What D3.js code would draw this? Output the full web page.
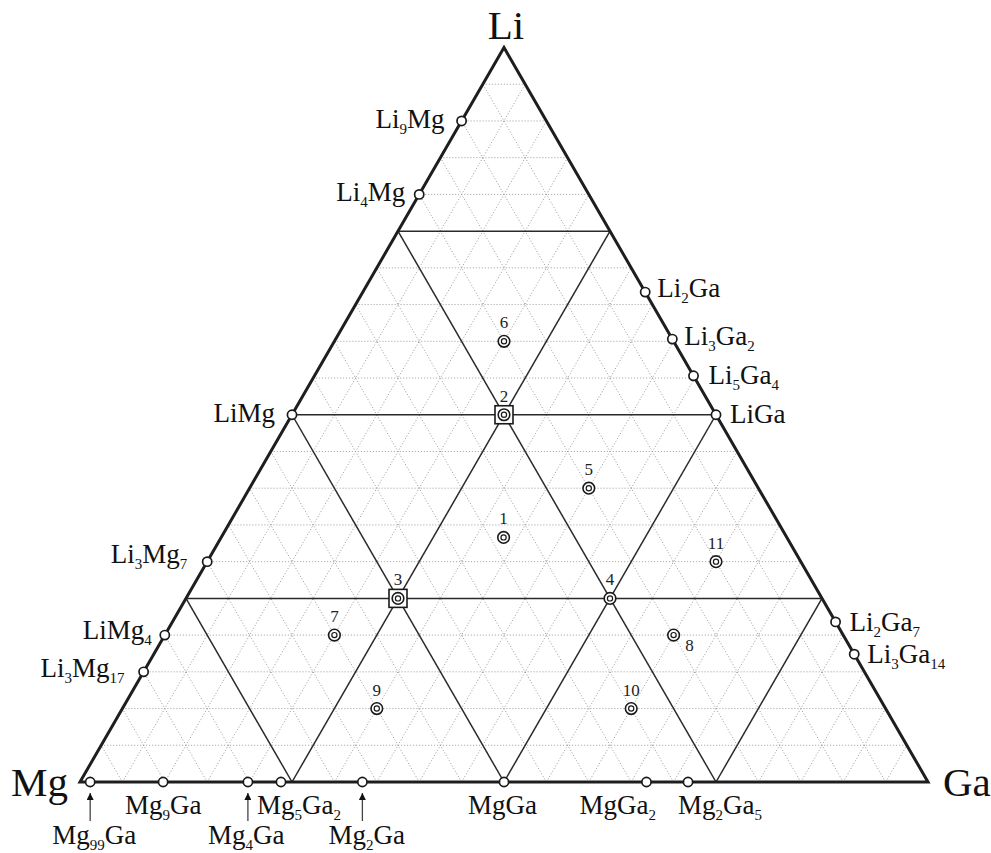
<!DOCTYPE html>
<html>
<head>
<meta charset="utf-8">
<script src="https://cdn.jsdelivr.net/npm/d3@7"></script>
<style>
  html, body { margin: 0; padding: 0; background: #fff; }
  svg { display: block; font-family: "Liberation Serif", "Times New Roman", serif; }
</style>
</head>
<body>
<svg id="chart" width="991" height="853"></svg>
<script>
// Li–Mg–Ga composition triangle

// corner elements
const vertices = ["Li", "Mg", "Ga"];

// binary compounds on the Li–Mg side (atomic fraction of Li)
const liMgNames = ["Li9Mg", "Li4Mg", "LiMg", "Li3Mg7", "LiMg4", "Li3Mg17"];
const liMgLi    = [0.90, 0.80, 0.50, 0.30, 0.20, 0.15];

// binary compounds on the Li–Ga side (atomic fraction of Li)
const liGaNames = ["Li2Ga", "Li3Ga2", "Li5Ga4", "LiGa", "Li2Ga7", "Li3Ga14"];
const liGaLi    = [0.667, 0.603, 0.553, 0.50, 0.218, 0.174];

// binary compounds on the Mg–Ga side (atomic fraction of Ga)
const mgGaNames = ["Mg99Ga", "Mg9Ga", "Mg4Ga", "Mg5Ga2", "Mg2Ga", "MgGa", "MgGa2", "Mg2Ga5"];
const mgGaGa    = [0.012, 0.098, 0.198, 0.237, 0.333, 0.50, 0.668, 0.717];

// ternary sample compositions
const sampleIds = ["1", "2", "3", "4", "5", "6", "7", "8", "9", "10", "11"];
const sampleLi  = [0.333, 0.50, 0.25, 0.25, 0.40, 0.60, 0.20, 0.20, 0.10, 0.10, 0.30];
const sampleMg  = [0.333, 0.25, 0.50, 0.25, 0.20, 0.20, 0.60, 0.20, 0.60, 0.30, 0.10];
const sampleGa  = [0.333, 0.25, 0.25, 0.50, 0.40, 0.20, 0.20, 0.60, 0.30, 0.60, 0.60];
const boxedSamples = ["2", "3"];

// grid divisions
const fineSteps = 20;   // 5 at.% dotted grid
const majorSteps = 4;   // 25 at.% solid grid

// ---- scales --------------------------------------------------------------
// horizontal: Ga + Li/2 along the base; vertical: Li fraction
const xScale = d3.scaleLinear().domain([0, 1]).range([80, 928]);
const yScale = d3.scaleLinear().domain([0, 1]).range([782, 47.5]);
const px = (li, ga) => xScale(ga + li / 2);
const py = (li) => yScale(li);

const svg = d3.select("#chart");

// ---- grid ----------------------------------------------------------------
function gridSegments(t) {
  return [
    [[t, 0], [t, 1 - t]],        // constant Li
    [[0, t], [1 - t, t]],        // constant Ga
    [[0, 1 - t], [1 - t, 0]]     // constant Mg
  ];
}
const line = d3.line().x(d => px(d[0], d[1])).y(d => py(d[0]));

const fineT = d3.range(1, fineSteps).filter(i => i % (fineSteps / majorSteps) !== 0).map(i => i / fineSteps);
svg.append("g")
  .selectAll("path")
  .data(fineT.flatMap(gridSegments))
  .join("path")
  .attr("d", line)
  .attr("fill", "none")
  .attr("stroke", "#9a9a9a")
  .attr("stroke-width", 1)
  .attr("stroke-dasharray", "1,2");

const majorT = d3.range(1, majorSteps).map(i => i / majorSteps);
svg.append("g")
  .selectAll("path")
  .data(majorT.flatMap(gridSegments))
  .join("path")
  .attr("d", line)
  .attr("fill", "none")
  .attr("stroke", "#2a2a2a")
  .attr("stroke-width", 1.5);

// outer triangle
svg.append("path")
  .attr("d", line([[1, 0], [0, 0], [0, 1]]) + "Z")
  .attr("fill", "none")
  .attr("stroke", "#1e1e1e")
  .attr("stroke-width", 3)
  .attr("stroke-linejoin", "miter");

// ---- labels with subscripts ---------------------------------------------
function formula(sel, name, size, subSize) {
  const parts = name.match(/[A-Za-z]+|\d+/g);
  let shifted = false;
  parts.forEach(p => {
    const isNum = /\d/.test(p);
    const t = sel.append("tspan").text(p);
    if (isNum) {
      t.attr("font-size", subSize).attr("dy", shifted ? 0 : 6);
      shifted = true;
    } else {
      t.attr("font-size", size).attr("dy", shifted ? -6 : 0);
      shifted = false;
    }
  });
}

// vertex labels
const vertexPos = {
  Li: { li: 1, ga: 0, dx: 2, dy: -9, anchor: "middle" },
  Mg: { li: 0, ga: 0, dx: -12, dy: 14, anchor: "end" },
  Ga: { li: 0, ga: 1, dx: 15, dy: 14, anchor: "start" }
};
svg.append("g")
  .selectAll("text")
  .data(vertices)
  .join("text")
  .attr("x", d => px(vertexPos[d].li, vertexPos[d].ga) + vertexPos[d].dx)
  .attr("y", d => py(vertexPos[d].li) + vertexPos[d].dy)
  .attr("text-anchor", d => vertexPos[d].anchor)
  .attr("font-size", 41)
  .attr("fill", "#111")
  .text(d => d);

// edge compounds as points
const edgePoints = [
  ...liMgNames.map((n, i) => ({ name: n, li: liMgLi[i], ga: 0 })),
  ...liGaNames.map((n, i) => ({ name: n, li: liGaLi[i], ga: 1 - liGaLi[i] })),
  ...mgGaNames.map((n, i) => ({ name: n, li: 0, ga: mgGaGa[i] }))
];

// label placement relative to each point
const edgeLabel = {
  Li9Mg:   { dx: -17, dy: 7, anchor: "end" },
  Li4Mg:   { dx: -14, dy: 7, anchor: "end" },
  LiMg:    { dx: -17, dy: 7, anchor: "end" },
  Li3Mg7:  { dx: -20, dy: 1, anchor: "end" },
  LiMg4:   { dx: -13, dy: 4, anchor: "end" },
  Li3Mg17: { dx: -19, dy: 5, anchor: "end" },
  Li2Ga:   { dx: 12, dy: 5, anchor: "start" },
  Li3Ga2:  { dx: 12, dy: 6, anchor: "start" },
  Li5Ga4:  { dx: 15, dy: 8, anchor: "start" },
  LiGa:    { dx: 14, dy: 8, anchor: "start" },
  Li2Ga7:  { dx: 14, dy: 9, anchor: "start" },
  Li3Ga14: { dx: 13, dy: 9, anchor: "start" },
  Mg99Ga:  { dx: -38, dy: 62, anchor: "start", arrow: true },
  Mg9Ga:   { dx: -38, dy: 32, anchor: "start" },
  Mg4Ga:   { dx: -40, dy: 62, anchor: "start", arrow: true },
  Mg5Ga2:  { dx: -24, dy: 32, anchor: "start" },
  Mg2Ga:   { dx: -34, dy: 62, anchor: "start", arrow: true },
  MgGa:    { dx: -36, dy: 32, anchor: "start" },
  MgGa2:   { dx: -67, dy: 32, anchor: "start" },
  Mg2Ga5:  { dx: -10, dy: 32, anchor: "start" }
};

// arrows for the lower row of base labels
svg.append("defs").append("marker")
  .attr("id", "arrowhead")
  .attr("viewBox", "0 0 10 10")
  .attr("refX", 10).attr("refY", 5)
  .attr("markerWidth", 9).attr("markerHeight", 7)
  .attr("markerUnits", "userSpaceOnUse")
  .attr("orient", "auto")
  .append("path")
  .attr("d", "M0,0 L10,5 L0,10 Z")
  .attr("fill", "#111");

svg.append("g")
  .selectAll("line")
  .data(edgePoints.filter(d => edgeLabel[d.name].arrow))
  .join("line")
  .attr("x1", d => px(d.li, d.ga))
  .attr("x2", d => px(d.li, d.ga))
  .attr("y1", d => py(d.li) + 39)
  .attr("y2", d => py(d.li) + 11)
  .attr("stroke", "#444")
  .attr("stroke-width", 1.3)
  .attr("marker-end", "url(#arrowhead)");

svg.append("g")
  .selectAll("circle")
  .data(edgePoints)
  .join("circle")
  .attr("cx", d => px(d.li, d.ga))
  .attr("cy", d => py(d.li))
  .attr("r", 4.6)
  .attr("fill", "#fff")
  .attr("stroke", "#1a1a1a")
  .attr("stroke-width", 1.7);

svg.append("g")
  .selectAll("text")
  .data(edgePoints)
  .join("text")
  .attr("x", d => px(d.li, d.ga) + edgeLabel[d.name].dx)
  .attr("y", d => py(d.li) + edgeLabel[d.name].dy)
  .attr("text-anchor", d => edgeLabel[d.name].anchor)
  .attr("fill", "#111")
  .each(function (d) { formula(d3.select(this), d.name, 27, 15); });

// ---- ternary samples -----------------------------------------------------
const samples = sampleIds.map((id, i) => ({ id, li: sampleLi[i], mg: sampleMg[i], ga: sampleGa[i] }));

svg.append("g")
  .selectAll("rect")
  .data(samples.filter(d => boxedSamples.includes(d.id)))
  .join("rect")
  .attr("x", d => px(d.li, d.ga) - 9)
  .attr("y", d => py(d.li) - 9)
  .attr("width", 18)
  .attr("height", 18)
  .attr("fill", "#fff")
  .attr("stroke", "#1a1a1a")
  .attr("stroke-width", 1.6);

const sampleG = svg.append("g");
sampleG.selectAll("circle.outer")
  .data(samples)
  .join("circle")
  .attr("class", "outer")
  .attr("cx", d => px(d.li, d.ga))
  .attr("cy", d => py(d.li))
  .attr("r", 5.8)
  .attr("fill", "#fff")
  .attr("stroke", "#1a1a1a")
  .attr("stroke-width", 1.6);
sampleG.selectAll("circle.inner")
  .data(samples)
  .join("circle")
  .attr("class", "inner")
  .attr("cx", d => px(d.li, d.ga))
  .attr("cy", d => py(d.li))
  .attr("r", 2.6)
  .attr("fill", "none")
  .attr("stroke", "#1a1a1a")
  .attr("stroke-width", 1.2);

const sampleLabel = id => id === "8" ? { dx: 16, dy: 16 } : { dx: 0, dy: -13 };
sampleG.selectAll("text")
  .data(samples)
  .join("text")
  .attr("x", d => px(d.li, d.ga) + sampleLabel(d.id).dx)
  .attr("y", d => py(d.li) + sampleLabel(d.id).dy)
  .attr("text-anchor", "middle")
  .attr("font-size", 17)
  .attr("fill", "#222")
  .text(d => d.id);
</script>
</body>
</html>
